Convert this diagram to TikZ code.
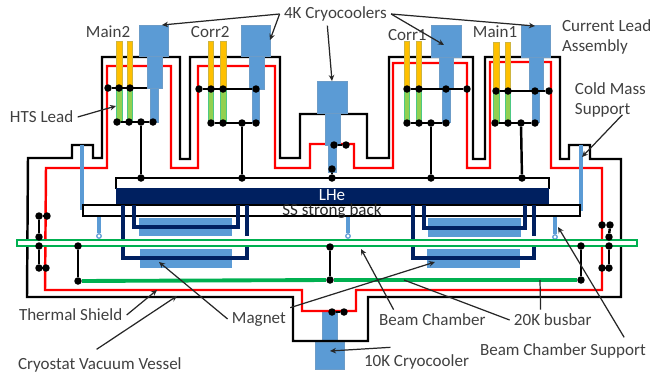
\documentclass[tikz,border=0pt]{standalone}
\usepackage{fontspec}
\setmainfont{Carlito}
\usetikzlibrary{positioning,arrows.meta,calc}
\definecolor{CoolerBlue}{HTML}{5B9BD5}
\definecolor{CoolerEdge}{HTML}{6C9CC8}
\definecolor{LeadYellow}{HTML}{FFC000}
\definecolor{HtsGreen}{HTML}{92D050}
\definecolor{LineGreen}{HTML}{00B050}
\definecolor{LheNavy}{HTML}{002060}
\definecolor{ShieldRed}{HTML}{FF0000}
\definecolor{GrayText}{HTML}{404040}
\tikzset{
  every node/.style = {font=\fontsize{9.7}{11.4}\selectfont, text=GrayText},
  cooler/.style     = {fill=CoolerBlue, draw=CoolerEdge, line width=0.3pt},
  yellowlead/.style = {fill=LeadYellow, draw=LeadYellow!70!CoolerBlue, line width=0.3pt},
  htslead/.style    = {fill=HtsGreen, draw=LineGreen!70, line width=0.3pt},
  magnet/.style     = {fill=CoolerBlue, draw=none},
  vessel/.style     = {draw=black, line width=1.4pt, line join=miter},
  shield/.style     = {draw=ShieldRed, line width=1.4pt, line join=miter},
  coil/.style       = {draw=LheNavy, line width=1.8pt},
  wire/.style       = {draw=black, line width=1.4pt},
  support/.style    = {draw=CoolerBlue, line width=2pt},
  dot/.style        = {circle, fill=black, draw=none, minimum size=1.5mm, inner sep=0pt},
  ring/.style       = {circle, fill=white, draw=CoolerBlue, line width=0.7pt, minimum size=0.9mm, inner sep=0pt},
  callout/.style    = {draw=black!85, line width=0.7pt, -{Stealth[length=1.2mm, width=1.1mm]}},
  lbl/.style        = {anchor=west, inner sep=0pt, outer sep=2.5pt, xshift=-2.5pt, align=left},
}
\def\TopBar{57}
\def\RedTop{66}
\def\RedLow{168}
\begin{document}
\begin{tikzpicture}[x=0.02cm, y=-0.02cm]
\useasboundingbox (0,0) rectangle (654,373);

% =========================================================================
% Bottom cryocooler (behind the vessel line)
% =========================================================================
\draw[cooler] (315,342) rectangle (344,369);
\draw[cooler] (322,310) rectangle (337,341);

% =========================================================================
% Vessel and thermal shield
% =========================================================================
\draw[vessel] (28,158) -- (72,158) -- (72,145) -- (93,145) -- (93,158) -- (102,158)
  -- (102,\TopBar) -- (180,\TopBar) -- (180,159) -- (190,159) -- (190,\TopBar)
  -- (280,\TopBar) -- (280,158) -- (300,158) -- (300,114) -- (367,114) -- (367,158)
  -- (389,158) -- (389,\TopBar) -- (473,\TopBar) -- (473,159) -- (485,159)
  -- (485,\TopBar) -- (560,\TopBar) -- (560,159) -- (569,159) -- (569,145) -- (590,145)
  -- (590,159) -- (621,159) -- (621,297) -- (368,297) -- (368,341) -- (293,341)
  -- (293,297) -- (27,297) -- cycle;
\draw[shield] (46,\RedLow) -- (107,\RedLow) -- (107,\RedTop) -- (171,\RedTop)
  -- (171,\RedLow) -- (198,\RedLow) -- (198,\RedTop) -- (275,\RedTop) -- (275,\RedLow)
  -- (310,\RedLow) -- (310,144) -- (354,144) -- (354,\RedLow) -- (393,\RedLow)
  -- (393,63) -- (467,63) -- (467,\RedLow) -- (490,\RedLow) -- (490,62) -- (551,62)
  -- (551,\RedLow) -- (602,\RedLow) -- (602,290) -- (356,290) -- (356,311) -- (302,311)
  -- (302,290) -- (45,290) -- cycle;

% =========================================================================
% Cold mass: helium vessel, strong back, magnets, coils
% =========================================================================
\draw[wire, fill=white] (116,189) -- (116,178) -- (549,178) -- (549,189);
\fill[LheNavy] (116,188) rectangle (549,204);
\draw[support] (82,145) -- (82,210);
\draw[support] (581,145) -- (581,211);
\draw[wire, fill=white] (83,205) rectangle (580,216);

\fill[magnet] (139,218) rectangle (232,236);
\fill[magnet] (140,249) rectangle (232,268);
\fill[magnet] (428,218) rectangle (521,237);
\fill[magnet] (427,249) rectangle (520,268);

\draw[coil] (123,205) -- (123,258) -- (247,258) -- (247,246);
\draw[coil] (247,205) -- (247,236);
\draw[coil] (134,205) -- (134,227) -- (238,227) -- (238,205);
\draw[coil] (413,205) -- (413,258) -- (534,258) -- (534,246);
\draw[coil] (534,205) -- (534,236);
\draw[coil] (424,205) -- (424,228) -- (525,228) -- (525,205);

% --- Beam chamber supports
\node[ring] (bsL) at (99,236) {};
\node[ring] (bsC) at (348,236) {};
\node[ring] (bsR) at (555,237) {};
\draw[support] (99,217) -- (bsL);
\draw[support] (348,217) -- (bsC);
\draw[support] (555,217) -- (bsR);

% =========================================================================
% Beam chamber and busbar
% =========================================================================
\draw[draw=LineGreen, fill=white, line width=1.5pt] (17,240) rectangle (637,246);
\node[dot] (busL) at (78,281) {};
\node[dot] (busC) at (330,280) {};
\node[dot] (busR) at (581,280) {};
\draw[draw=LineGreen, line width=2.2pt] (busL) -- (busC) -- (busR);

% =========================================================================
% Cryocoolers and current leads
% =========================================================================
% Main2
\draw[cooler] (150,88) rectangle (158,122);
\draw[cooler] (147,56) rectangle (162,88);
\draw[cooler] (139,25) rectangle (168,56);
\draw[yellowlead] (116,41) rectangle (122,88);
\draw[yellowlead] (127,41) rectangle (132,88);
\draw[htslead] (116,88) rectangle (122,122);
\draw[htslead] (127,88) rectangle (132,122);
% Corr2
\draw[cooler] (252,89) rectangle (259,122);
\draw[cooler] (249,56) rectangle (264,89);
\draw[cooler] (241,25) rectangle (270,56);
\draw[yellowlead] (208,41) rectangle (213,89);
\draw[yellowlead] (220,41) rectangle (226,89);
\draw[htslead] (208,89) rectangle (213,123);
\draw[htslead] (220,89) rectangle (226,123);
% Centre
\draw[cooler] (328,145) rectangle (336,172);
\draw[cooler] (325,113) rectangle (340,145);
\draw[cooler] (317,81) rectangle (347,113);
% Corr1
\draw[cooler] (442,89) rectangle (450,122);
\draw[cooler] (439,57) rectangle (453,89);
\draw[cooler] (431,25) rectangle (461,57);
\draw[yellowlead] (404,41) rectangle (409,89);
\draw[yellowlead] (416,41) rectangle (421,89);
\draw[htslead] (404,89) rectangle (409,123);
\draw[htslead] (416,89) rectangle (421,123);
% Main1
\draw[cooler] (532,90) rectangle (539,122);
\draw[cooler] (529,57) rectangle (543,90);
\draw[cooler] (521,25) rectangle (550,57);
\draw[yellowlead] (493,42) rectangle (499,90);
\draw[yellowlead] (505,42) rectangle (510,90);
\draw[htslead] (493,90) rectangle (499,123);
\draw[htslead] (505,90) rectangle (510,123);

% =========================================================================
% Thermal links (dots first, wires named node to node)
% =========================================================================
\node[dot] (hmL) at (141,178) {};
\node[dot] (hcL) at (242,178) {};
\node[dot] (hcC) at (332,178) {};
\node[dot] (hcR) at (431,178) {};
\node[dot] (hmR) at (522,178) {};

% Main2
\node[dot] (mbA) at (108,88) {};
\node[dot] (mbB) at (119,88) {};
\node[dot] (mbC) at (130,88) {};
\coordinate (mbD) at (147,88);
\node[dot] (mcA) at (117,122) {};
\node[dot] (mcB) at (129,122) {};
\node[dot] (mcC) at (141,122) {};
\node[dot] (mcD) at (153,122) {};
\draw[wire] (mbA) -- (mbD);
\draw[wire] (mcA) -- (mcD);
\draw[wire] (mcC) -- (hmL);
% Corr2
\node[dot] (cbA) at (199,89) {};
\node[dot] (cbB) at (211,89) {};
\node[dot] (cbC) at (223,89) {};
\node[dot] (cbD) at (256,89) {};
\node[dot] (ccA) at (211,123) {};
\node[dot] (ccB) at (223,123) {};
\node[dot] (ccC) at (242,123) {};
\node[dot] (ccD) at (256,123) {};
\draw[wire] (cbA) -- (cbD);
\draw[wire] (ccA) -- (ccD);
\draw[wire] (ccC) -- (hcL);
% Corr1
\node[dot] (dbA) at (407,89) {};
\node[dot] (dbB) at (419,89) {};
\node[dot] (dbC) at (446,89) {};
\node[dot] (dbD) at (467,89) {};
\node[dot] (dcA) at (407,123) {};
\node[dot] (dcB) at (419,123) {};
\node[dot] (dcC) at (431,123) {};
\node[dot] (dcD) at (446,123) {};
\draw[wire] (dbA) -- (dbD);
\draw[wire] (dcA) -- (dcD);
\draw[wire] (dcC) -- (hcR);
% Main1
\node[dot] (nbA) at (496,91) {};
\node[dot] (nbB) at (508,91) {};
\node[dot] (nbC) at (535,91) {};
\node[dot] (nbD) at (549,91) {};
\node[dot] (ncA) at (495,123) {};
\node[dot] (ncB) at (508,123) {};
\node[dot] (ncC) at (521,123) {};
\node[dot] (ncD) at (535,123) {};
\draw[wire] (nbA) -- (nbD);
\draw[wire] (ncA) -- (ncD);
\draw[wire] (ncC) -- (hmR);
% Centre, top and bottom cryocoolers
\node[dot] (ctA) at (334,145) {};
\node[dot] (ctB) at (346,145) {};
\node[dot] (ctC) at (332,169) {};
\draw[wire] (ctA) -- (ctB);
\draw[wire] (ctC) -- (hcC);
\node[dot] (cbotA) at (332,312) {};
\node[dot] (cbotB) at (344,312) {};
\draw[wire] (cbotA) -- (cbotB);
% Left and right shield links
\node[dot] (laA) at (39,216) {};
\node[dot] (laB) at (47,216) {};
\node[dot] (laC) at (39,237) {};
\node[dot] (laD) at (39,246) {};
\node[dot] (laE) at (39,268) {};
\node[dot] (laF) at (46,268) {};
\draw[wire] (laB) -- (laA) -- (laC);
\draw[wire] (laD) -- (laE) -- (laF);
\node[dot] (raA) at (610,225) {};
\node[dot] (raB) at (602,225) {};
\node[dot] (raC) at (609,237) {};
\node[dot] (raD) at (609,246) {};
\node[dot] (raE) at (609,268) {};
\node[dot] (raF) at (602,268) {};
\draw[wire] (raB) -- (raA) -- (raC);
\draw[wire] (raD) -- (raE) -- (raF);
% Chamber to busbar
\node[dot] (chL) at (78,246) {};
\node[dot] (chC) at (330,247) {};
\node[dot] (chR) at (581,246) {};
\draw[wire] (chL) -- (busL);
\draw[wire] (chC) -- (busC);
\draw[wire] (chR) -- (busR);

% =========================================================================
% Labels
% =========================================================================
\node[text=white, inner sep=0pt] (lbLhe) at (332,195) {LHe};
\node[text=black!85, inner sep=0pt] (lbBack) at (332,211) {SS strong back};
\node[lbl] (lb4K) at (284,14) {4K Cryocoolers};
\node[lbl] (lbMainB) at (86,32) {Main2};
\node[lbl] (lbCorrB) at (191,32) {Corr2};
\node[lbl] (lbCorrA) at (388,35) {Corr1};
\node[lbl] (lbMainA) at (473,32) {Main1};
\node[lbl] (lbCurrent) at (562,37) {Current Lead\\Assembly};
\node[lbl] (lbCold) at (575,100) {Cold Mass\\Support};
\node[lbl] (lbHts) at (10,117) {HTS Lead};
\node[lbl] (lbThermal) at (19,315) {Thermal Shield};
\node[lbl] (lbVessel) at (18,365) {Cryostat Vacuum Vessel};
\node[lbl] (lbMagnet) at (232,319) {Magnet};
\node[lbl] (lbBeam) at (379,320) {Beam Chamber};
\node[lbl] (lbBus) at (514,320) {20K busbar};
\node[lbl] (lbSupport) at (480,351) {Beam Chamber Support};
\node[lbl] (lbTen) at (364,362) {10K Cryocooler};

% =========================================================================
% Callouts
% =========================================================================
\coordinate (tipMainB) at (162,25);
\coordinate (tipCorrB) at (270,40);
\coordinate (tipCentre) at (332,81);
\coordinate (tipCorrA) at (444,45);
\coordinate (tipMainA) at (535,26);
\coordinate (tipHts) at (116,106);
\coordinate (tipCold) at (582,157);
\coordinate (tipThermal) at (157,290);
\coordinate (tipVessel) at (177,296);
\coordinate (tipMagL) at (159,262);
\coordinate (tipMagR) at (435,262);
\coordinate (tipBeam) at (361,249);
\coordinate (tipBusA) at (404,280);
\coordinate (tipBusB) at (540,280);
\coordinate (tipSupport) at (558,227);
\coordinate (tipTen) at (330,351);

\draw[callout] (lb4K.west) -- (tipMainB);
\draw[callout] (lb4K.west) -- (tipCorrB);
\draw[callout] ($(lb4K.south)+(-8,0)$) -- (tipCentre);
\draw[callout] (lb4K.east) -- (tipCorrA);
\draw[callout] (lb4K.east) -- (tipMainA);
\draw[callout] (lbHts.east) -- (tipHts);
\draw[callout] ($(lbCold.south)+(12,-7)$) -- (tipCold);
\draw[callout] (lbThermal.east) -- (tipThermal);
\draw[callout] ($(lbVessel.north west)+(83,-4)$) -- (tipVessel);
\draw[callout] (lbMagnet.west) -- (tipMagL);
\draw[callout] (lbMagnet.north east) -- (tipMagR);
\draw[callout] ($(lbBeam.north west)+(19,0)$) -- (tipBeam);
\draw[callout, -] (lbBus.west) -- (tipBusA);
\draw[callout, -] ($(lbBus.north west)+(31,0)$) -- (tipBusB);
\draw[callout] ($(lbSupport.north east)+(-26,-2)$) -- (tipSupport);
\draw[callout] ($(lbTen.north)+(-26,-3)$) -- (tipTen);

\end{tikzpicture}
\end{document}
